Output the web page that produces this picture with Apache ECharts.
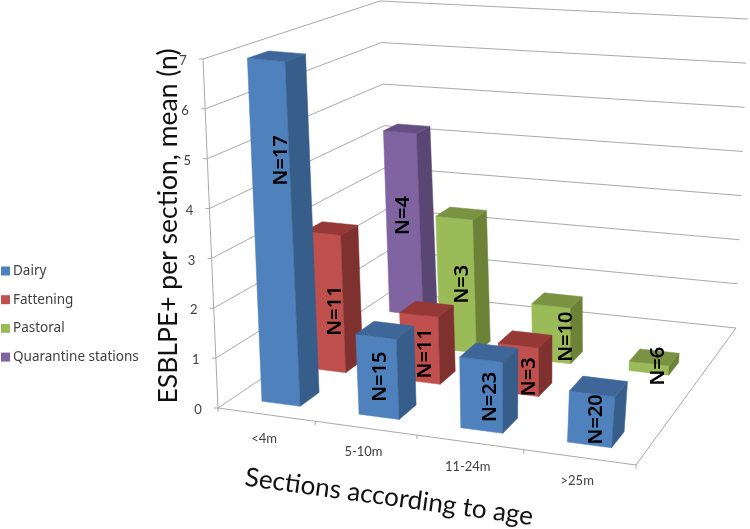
<!DOCTYPE html>
<html>
<head>
<meta charset="utf-8">
<style>html,body{margin:0;padding:0;background:#fff}#c{width:750px;height:529px}</style>
<script src="https://cdn.jsdelivr.net/npm/echarts@6/dist/echarts.min.js"></script>
</head>
<body>
<div id="c"></div>
<script>
const categories = ['<4m', '5-10m', '11-24m', '>25m'];
const seriesNames = ['Dairy', 'Fattening', 'Pastoral', 'Quarantine stations'];
const dairy = [6.95, 1.6, 1.4, 1.0];
const fattening = [2.9, 1.4, 1.0, null];
const pastoral = [null, 2.9, 1.2, 0.2];
const quarantine = [4.2, null, null, null];
const dairyN = ['N=17', 'N=15', 'N=23', 'N=20'];
const fatteningN = ['N=11', 'N=11', 'N=3', ''];
const pastoralN = ['', 'N=3', 'N=10', 'N=6'];
const quarantineN = ['N=4', '', '', ''];
const valueTicks = [0, 1, 2, 3, 4, 5, 6, 7];

// style / layout (kept apart from the data)
const palette = [
  {front:'#4F81BD', side:'#375D8B', top:'#3E6699'},
  {front:'#C0504D', side:'#7F312F', top:'#953836'},
  {front:'#9BBB59', side:'#6B8237', top:'#799342'},
  {front:'#8064A2', side:'#594673', top:'#644F82'}
];
const labelShift = [
  [[8,-71],[3,0],[8,2],[5,0]],
  [[10,9],[5,5],[11,7],[0,0]],
  [[0,0],[6,0],[15,3],[9,-2]],
  [[0,-7],[0,0],[0,0],[0,0]]
];
// perspective frame: the box that maps the (hidden) 2D scales into the picture
const floorQuad = [[218,408],[636,465],[736,328],[390,292]];
const topQuad = [[203,59],[672,102],[748,19],[380,1]];
const G = {left:0, top:0, width:400, height:350};
const uMax = categories.length, wMax = seriesNames.length, vMax = 7;
const barFrac = 0.4;

function quadHomography(q){
  const [p0,p1,p2,p3] = q;
  const dx1=p1[0]-p2[0], dx2=p3[0]-p2[0], sx=p0[0]-p1[0]+p2[0]-p3[0];
  const dy1=p1[1]-p2[1], dy2=p3[1]-p2[1], sy=p0[1]-p1[1]+p2[1]-p3[1];
  const det=dx1*dy2-dx2*dy1;
  const g=(sx*dy2-dx2*sy)/det, h=(dx1*sy-sx*dy1)/det;
  const a=p1[0]-p0[0]+g*p1[0], b=p3[0]-p0[0]+h*p3[0], c=p0[0];
  const d=p1[1]-p0[1]+g*p1[1], e=p3[1]-p0[1]+h*p3[1], f=p0[1];
  return (s,t)=>{const k=g*s+h*t+1; return [(a*s+b*t+c)/k,(d*s+e*t+f)/k];};
}
const floorH = quadHomography(floorQuad), topH = quadHomography(topQuad);
function project(u,w,v){
  const a=floorH(u/uMax,w/wMax), b=topH(u/uMax,w/wMax), k=v/vMax;
  return [a[0]+(b[0]-a[0])*k, a[1]+(b[1]-a[1])*k];
}
const pxU = px => (px-G.left)/G.width*uMax;
const pyV = py => (G.top+G.height-py)/G.height*vMax;

const lineStyle = {stroke:'#a9a9a9', lineWidth:1, fill:null};
function seg(pts){return {type:'polyline', shape:{points:pts}, style:lineStyle, silent:true};}

function renderFrame(params, api){
  const v = api.value(1);
  const pv = pyV(api.coord([0,v])[1]);
  const ch = [];
  ch.push(seg([project(0,0,pv),project(0,wMax,pv),project(uMax,wMax,pv)]));
  const a = project(0,0,pv);
  ch.push(seg([[a[0]-4,a[1]],a]));
  ch.push({type:'text', x:a[0]-20, y:a[1]+2, style:{text:String(v), fontFamily:'Lato', fontSize:13, fill:'#404040', align:'center', verticalAlign:'middle'}});
  if (params.dataIndex===0){
    ch.push(seg([project(0,0,0),project(uMax,0,0),project(uMax,wMax,0)]));
    ch.push(seg([project(0,0,0),project(0,0,vMax)]));
    for(let i=0;i<=uMax;i++){
      const t=project(i,0,0);
      ch.push(seg([t,[t[0],t[1]+4]]));
    }
    categories.forEach((c,i)=>{
      const cx=pxU(api.coord([i,0])[0]);
      const t=project(cx,0,0);
      ch.push({type:'text', x:t[0]-2, y:t[1]+24, style:{text:c, fontFamily:'Lato', fontSize:13, fill:'#404040', align:'center', verticalAlign:'middle'}});
    });
  }
  return {type:'group', children:ch};
}

function poly(pts,fill){return {type:'polygon', shape:{points:pts}, style:{fill:fill, stroke:fill, lineWidth:0.5}};}
function barRenderer(j, labels){
  return function(params, api){
    const i=api.value(0), val=api.value(1);
    const c=api.coord([i,val]);
    const uc=pxU(c[0]), v=pyV(c[1]);
    const half=pxU(G.left+api.size([1,0])[0])*barFrac/2;
    const u0=uc-half,u1=uc+half,w0=j+0.5-barFrac/2,w1=j+0.5+barFrac/2;
    const A=project(u0,w0,0),B=project(u1,w0,0),C=project(u1,w1,0);
    const D=project(u0,w0,v),E=project(u1,w0,v),F=project(u1,w1,v),H=project(u0,w1,v);
    const s=labelShift[j][i];
    const ch=[poly([A,B,E,D],palette[j].front),poly([B,C,F,E],palette[j].side),poly([D,E,F,H],palette[j].top)];
    ch.push({type:'text', x:(A[0]+E[0])/2+s[0], y:(A[1]+E[1])/2+s[1], rotation:Math.PI/2,
      style:{text:labels[i], fontFamily:'Noto Sans', fontSize:20, fontWeight:600, fill:'#000', align:'center', verticalAlign:'middle'}});
    return {type:'group', children:ch};
  };
}
const seriesValues=[dairy,fattening,pastoral,quarantine];
const seriesLabels=[dairyN,fatteningN,pastoralN,quarantineN];

const barSeries=seriesNames.map((name,j)=>({
  name:name, type:'custom', coordinateSystem:'cartesian2d', z:10-j,
  itemStyle:{color:palette[j].front},
  encode:{x:0,y:1},
  renderItem:barRenderer(j,seriesLabels[j]),
  data:seriesValues[j].map((v,i)=>[i,v]).filter(d=>d[1]!==null)
}));

const chart=echarts.init(document.getElementById('c'),null,{renderer:'canvas'});
chart.setOption({
  animation:false,
  backgroundColor:'#fff',
  grid:Object.assign({containLabel:false},G),
  xAxis:{type:'category',data:categories,show:false},
  yAxis:{type:'value',min:0,max:vMax,show:false},
  legend:{show:true,orient:'vertical',left:1,top:264,padding:0,itemWidth:9,itemHeight:9,itemGap:14.7,
    icon:'rect',data:seriesNames,selectedMode:false,
    textStyle:{fontFamily:'Noto Sans',fontSize:13.5,color:'#404040',padding:[0,0,0,-2]}},
  graphic:[
    {type:'text',x:168,y:226,rotation:Math.PI/2,z:20,style:{text:'ESBLPE+ per section, mean (n)',fontFamily:'Lato',fontSize:26.5,fill:'#111',align:'center',verticalAlign:'middle'}},
    {type:'text',x:389,y:497,rotation:-7.8*Math.PI/180,z:20,style:{text:'Sections according to age',fontFamily:'Lato',fontSize:26,fill:'#111',align:'center',verticalAlign:'middle'}}
  ],
  series:[{name:'frame',type:'custom',coordinateSystem:'cartesian2d',z:1,silent:true,encode:{x:0,y:1},
    renderItem:renderFrame,data:valueTicks.map(v=>[0,v])}].concat(barSeries)
});
</script>
</body>
</html>
